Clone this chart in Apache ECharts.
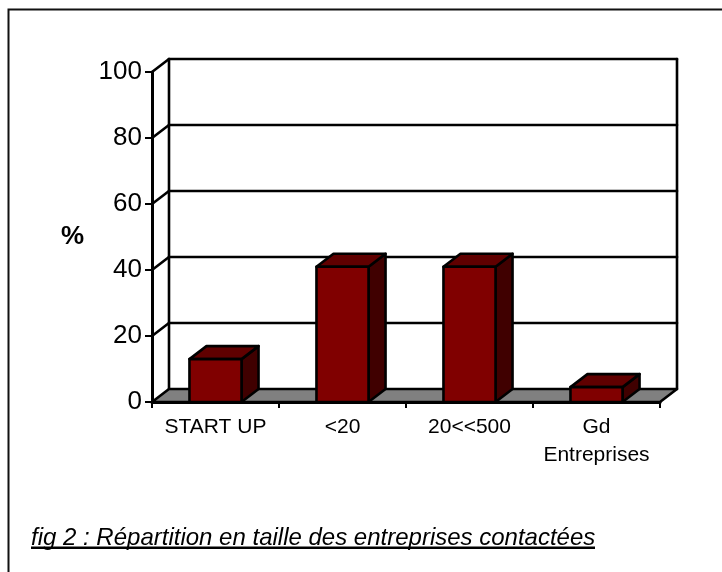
<!DOCTYPE html>
<html>
<head>
<meta charset="utf-8">
<style>html,body{margin:0;padding:0;background:#fff}#chart{width:722px;height:572px}</style>
<script src="https://cdn.jsdelivr.net/npm/echarts@6/dist/echarts.min.js"></script>
</head>
<body>
<div id="chart"></div>
<script>
// Company size breakdown, drawn as a pseudo-3D column chart
const categories = ['START UP', '<20', '20<<500', 'Gd\nEntreprises'];
const shares = [13, 41, 41, 4.5];
const yTicks = [0, 20, 40, 60, 80, 100];
const captionText = 'fig 2 : Répartition en taille des entreprises contactées';

const FONT = '"Liberation Sans", Arial, sans-serif';
const DEPTH_X = 17, DEPTH_Y = 13;
const BAR_RATIO = 0.41;
const INK = '#000';

const line = (x1, y1, x2, y2, w) => ({
  type: 'line',
  shape: { x1, y1, x2, y2 },
  style: { stroke: INK, lineWidth: w, lineCap: 'round' }
});
const poly = (points, fill) => ({
  type: 'polygon',
  shape: { points },
  style: { fill, stroke: INK, lineWidth: 2.6, lineJoin: 'round' }
});

// One gridline per tick: diagonal on the side wall, then across the back wall
function renderGridline(params, api) {
  const box = params.coordSys;
  const y = api.coord([0, api.value(1)])[1];
  const left = box.x, right = box.x + box.width;
  const children = [];
  if (api.value(1) > 0) {
    children.push(line(left + DEPTH_X, y - DEPTH_Y, right + DEPTH_X, y - DEPTH_Y, 2.6));
    children.push(line(left, y, left + DEPTH_X, y - DEPTH_Y, 2.6));
  }
  return { type: 'group', children };
}

// Back wall verticals and the grey floor
function renderRoom(params, api) {
  const box = params.coordSys;
  const top = api.coord([0, 100])[1];
  const base = api.coord([0, 0])[1];
  const left = box.x, right = box.x + box.width;
  return {
    type: 'group',
    children: [
      line(left + DEPTH_X, top - DEPTH_Y, left + DEPTH_X, base - DEPTH_Y, 2.6),
      line(right + DEPTH_X, top - DEPTH_Y, right + DEPTH_X, base - DEPTH_Y, 2.6),
      poly([[left, base], [left + DEPTH_X, base - DEPTH_Y],
            [right + DEPTH_X, base - DEPTH_Y], [right, base]], '#808080')
    ]
  };
}

// Extruded column: side face, top face, front face
function renderBar(params, api) {
  const [cx, yTop] = api.coord([api.value(0), api.value(1)]);
  const yBase = api.coord([api.value(0), 0])[1];
  const w = api.size([1, 0])[0] * BAR_RATIO;
  const x0 = cx - w / 2, x1 = cx + w / 2;
  return {
    type: 'group',
    children: [
      poly([[x1, yBase], [x1 + DEPTH_X, yBase - DEPTH_Y],
            [x1 + DEPTH_X, yTop - DEPTH_Y], [x1, yTop]], '#400000'),
      poly([[x0, yTop], [x0 + DEPTH_X, yTop - DEPTH_Y],
            [x1 + DEPTH_X, yTop - DEPTH_Y], [x1, yTop]], '#600000'),
      poly([[x0, yBase], [x0, yTop], [x1, yTop], [x1, yBase]], '#800000')
    ]
  };
}

const chart = echarts.init(document.getElementById('chart'), null, { renderer: 'canvas' });
chart.setOption({
  animation: false,
  backgroundColor: '#fff',
  textStyle: { fontFamily: FONT },
  title: {
    text: captionText,
    left: 31,
    top: 526,
    padding: 0,
    textStyle: { fontFamily: FONT, fontSize: 24, fontStyle: 'italic', fontWeight: 'normal', color: INK }
  },
  grid: { left: 152, top: 72, width: 508, height: 330 },
  xAxis: {
    type: 'category',
    data: categories,
    z: 6,
    axisLine: { lineStyle: { color: INK, width: 3 } },
    axisTick: { show: true, length: 6, lineStyle: { color: INK, width: 2 } },
    axisLabel: { color: INK, fontSize: 21, fontFamily: FONT, margin: 11, lineHeight: 28, interval: 0, verticalAlign: 'top' }
  },
  yAxis: {
    type: 'value',
    min: 0,
    max: 100,
    interval: 20,
    name: '%',
    nameLocation: 'middle',
    nameRotate: 0,
    nameGap: 68,
    nameTextStyle: { color: INK, fontSize: 26, fontWeight: 'bold', fontFamily: FONT },
    splitLine: { show: false },
    axisLine: { show: true, lineStyle: { color: INK, width: 3 } },
    axisTick: { show: true, length: 7, lineStyle: { color: INK, width: 2 } },
    axisLabel: { color: INK, fontSize: 26, fontFamily: FONT, margin: 10 }
  },
  series: [
    { type: 'custom', z: 1, silent: true, renderItem: renderGridline, encode: { x: 0, y: 1 },
      data: yTicks.map(t => [0, t]) },
    { type: 'custom', z: 2, silent: true, renderItem: renderRoom, encode: { x: 0, y: 1 },
      data: [[0, 0]] },
    { type: 'custom', z: 3, renderItem: renderBar, encode: { x: 0, y: 1 },
      data: shares.map((v, i) => [i, v]) }
  ],
  graphic: [
    { type: 'polyline', z: 10, silent: true,
      shape: { points: [[8.5, 572], [8.5, 9.5], [722, 9.5]] },
      style: { stroke: '#111', lineWidth: 2, fill: null } },
    { type: 'rect', z: 10, silent: true,
      shape: { x: 31, y: 546.5, width: 564, height: 2.5 },
      style: { fill: INK } }
  ]
});
</script>
</body>
</html>
